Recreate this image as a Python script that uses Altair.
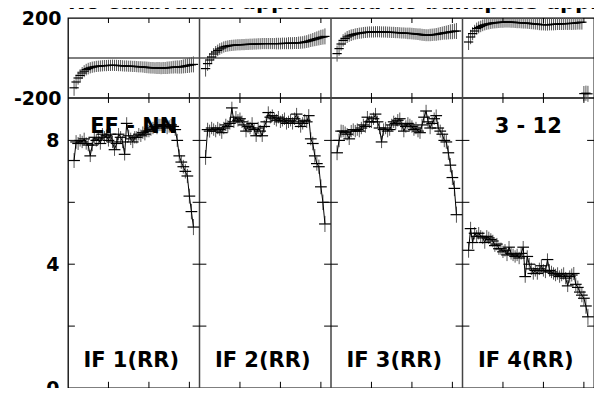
import altair as alt
import pandas as pd

TITLE = "No calibration applied and no bandpass applied"
BASELINE_LABEL = "EF - NN"
SOURCE_LABEL = "3 - 12"
IF_LABELS = ["IF 1(RR)", "IF 2(RR)", "IF 3(RR)", "IF 4(RR)"]

CHANNELS = list(range(3, 63))
CHANNELS_PER_PANEL = 65
X_TICKS = [20, 40, 60]
PHASE_LABELS = [-200, 200]
AMP_LABELS = [0, 4, 8]
AMP_TICKS = [2, 4, 6, 8]

PHASE_IF1 = [-149, -120, -100, -87, -75, -66, -58, -53, -49, -46,
             -44, -42, -41, -40, -39, -38, -38, -37, -37, -36,
             -37, -37, -38, -38, -39, -40, -40, -41, -41, -42,
             -42, -43, -44, -44, -45, -46, -47, -48, -49, -49,
             -50, -50, -50, -51, -50, -50, -49, -48, -47, -46,
             -45, -45, -45, -44, -42, -40, -38, -36, -34, -32]
PHASE_IF2 = [-53, -28, -10, 5, 20, 30, 38, 45, 50, 55,
             58, 60, 62, 63, 64, 65, 66, 66, 67, 67,
             68, 68, 69, 69, 70, 70, 71, 71, 72, 72,
             72, 72, 72, 72, 72, 72, 72, 72, 73, 73,
             73, 74, 74, 74, 75, 75, 76, 77, 78, 80,
             82, 85, 88, 91, 94, 97, 100, 103, 105, 108]
PHASE_IF3 = [22, 47, 70, 88, 97, 105, 110, 114, 117, 120,
             122, 124, 125, 127, 128, 129, 130, 130, 130, 131,
             131, 131, 130, 130, 130, 129, 129, 128, 128, 127,
             127, 126, 125, 125, 124, 123, 123, 122, 121, 120,
             119, 118, 116, 115, 114, 114, 115, 116, 117, 118,
             120, 122, 124, 126, 127, 129, 131, 132, 134, 135]
PHASE_IF4 = [80, 105, 122, 135, 147, 153, 158, 163, 166, 169,
             171, 173, 175, 176, 177, 178, 179, 179, 180, 180,
             180, 179, 179, 178, 177, 177, 176, 175, 175, 174,
             173, 172, 171, 170, 169, 168, 167, 167, 166, 166,
             167, 168, 168, 169, 170, 170, 171, 171, 172, 172,
             173, 173, 174, 175, 177, 178, 179, -178, -176, -179]

AMP_IF1 = [7.35, 7.95, 7.9, 8.0, 7.95, 8.05, 7.9, 7.85, 7.5, 7.85,
           8.1, 8.0, 8.05, 7.9, 8.2, 8.1, 8.15, 8.0, 8.2, 7.95,
           7.7, 7.9, 8.2, 8.1, 7.95, 7.55, 8.55, 8.15, 8.05, 7.95,
           8.1, 8.1, 8.2, 8.15, 8.25, 8.2, 8.3, 8.3, 8.35, 8.4,
           8.45, 8.4, 8.5, 8.5, 8.45, 8.5, 8.4, 8.45, 8.5, 8.45,
           8.35, 8.0, 7.5, 7.3, 7.15, 7.0, 6.85, 6.2, 5.7, 5.2]
AMP_IF2 = [7.45, 8.35, 8.3, 8.4, 8.35, 8.3, 8.4, 8.35, 8.25, 8.4,
           8.5, 8.45, 8.55, 9.05, 8.6, 8.75, 8.65, 8.7, 8.6, 8.5,
           8.3, 8.45, 8.4, 8.55, 8.35, 8.15, 8.4, 8.3, 8.15, 8.45,
           8.6, 8.9, 8.75, 8.8, 8.7, 8.65, 8.75, 8.6, 8.65, 8.7,
           8.55, 8.6, 8.65, 8.55, 8.7, 8.85, 8.6, 8.45, 8.55, 8.65,
           8.6, 8.8, 8.05, 7.9, 7.5, 7.25, 7.15, 6.5, 6.0, 5.3]
AMP_IF3 = [7.6, 8.0, 8.3, 8.3, 8.25, 8.2, 8.05, 8.3, 8.35, 8.3,
           8.35, 8.3, 8.4, 8.5, 8.45, 8.75, 8.6, 8.6, 8.7, 8.85,
           8.6, 8.4, 7.95, 8.35, 8.4, 8.3, 8.35, 8.5, 8.6, 8.55,
           8.65, 8.7, 8.5, 8.3, 8.45, 8.55, 8.5, 8.45, 8.35, 8.4,
           8.3, 8.25, 8.5, 8.75, 8.95, 8.6, 8.4, 8.55, 8.7, 8.8,
           8.4, 8.3, 8.2, 8.0, 7.95, 7.6, 7.2, 6.8, 6.45, 5.6]
AMP_IF4 = [4.45, 5.15, 4.7, 5.0, 4.9, 5.0, 4.9, 4.85, 4.7, 4.9,
           4.85, 4.8, 4.75, 4.6, 4.65, 4.5, 4.5, 4.4, 4.45, 4.3,
           4.55, 4.35, 4.3, 4.25, 4.3, 4.2, 4.35, 4.55, 3.6, 4.25,
           4.0, 3.85, 3.7, 3.8, 3.7, 3.85, 3.95, 3.8, 3.75, 4.15,
           3.8, 3.75, 3.7, 3.65, 3.7, 3.6, 3.65, 3.7, 3.55, 3.3,
           3.6, 3.65, 3.7, 3.35, 3.25, 3.1, 3.0, 2.9, 2.65, 2.3]

PHASE_ERR = [40, 36, 33, 31, 30, 30, 29, 29, 28, 28,
             28, 28, 28, 28, 28, 28, 28, 28, 28, 28,
             28, 28, 28, 28, 28, 28, 28, 28, 28, 28,
             28, 28, 28, 28, 28, 29, 29, 29, 29, 29,
             29, 30, 30, 30, 30, 30, 31, 31, 31, 32,
             32, 33, 33, 34, 35, 36, 37, 38, 38, 40]
AMP_ERR = [0.24, 0.22, 0.21, 0.20, 0.20, 0.20, 0.20, 0.20, 0.20, 0.20,
           0.20, 0.20, 0.20, 0.20, 0.20, 0.20, 0.20, 0.20, 0.20, 0.20,
           0.20, 0.20, 0.20, 0.20, 0.20, 0.20, 0.20, 0.20, 0.20, 0.20,
           0.20, 0.20, 0.20, 0.20, 0.20, 0.20, 0.20, 0.20, 0.20, 0.20,
           0.20, 0.20, 0.20, 0.20, 0.20, 0.20, 0.20, 0.20, 0.20, 0.20,
           0.20, 0.21, 0.21, 0.22, 0.22, 0.23, 0.23, 0.24, 0.25, 0.26]

PHASES = [PHASE_IF1, PHASE_IF2, PHASE_IF3, PHASE_IF4]
AMPS = [AMP_IF1, AMP_IF2, AMP_IF3, AMP_IF4]
NPANEL = len(IF_LABELS)
XMAX = CHANNELS_PER_PANEL * NPANEL

# --- build tables ---------------------------------------------------------
rows = []
for k in range(NPANEL):
    for i, ch in enumerate(CHANNELS):
        xg = ch + CHANNELS_PER_PANEL * k
        p, a = PHASES[k][i], AMPS[k][i]
        rows.append(dict(k=k, xg=xg,
                         px0=xg - 2.3, px1=xg + 2.3,
                         ax0=xg - 2.9, ax1=xg + 2.9,
                         ph=p, ph_lo=p - PHASE_ERR[i], ph_hi=p + PHASE_ERR[i],
                         amp=a, amp_lo=a - AMP_ERR[i], amp_hi=a + AMP_ERR[i]))
df = pd.DataFrame(rows)

seps = pd.DataFrame({"b": [CHANNELS_PER_PANEL * k for k in range(1, NPANEL)]})
xt = pd.DataFrame({"xt": [t + CHANNELS_PER_PANEL * k for k in range(NPANEL) for t in X_TICKS]})
yt = pd.DataFrame([dict(x0=CHANNELS_PER_PANEL * k - 3.4, x1=CHANNELS_PER_PANEL * k + 3.4, y=t)
                   for k in range(NPANEL + 1) for t in AMP_TICKS])
labels_df = pd.DataFrame({"x": [CHANNELS_PER_PANEL * k + 7.6 for k in range(NPANEL)],
                          "y": [0.67] * NPANEL, "t": IF_LABELS})
ann_df = pd.DataFrame({"x": [CHANNELS_PER_PANEL * 0.5, CHANNELS_PER_PANEL * 3.5],
                       "y": [8.23, 8.23], "t": [BASELINE_LABEL, SOURCE_LABEL]})

# --- scales ---------------------------------------------------------------
H_PHASE = 80
H_TOTAL = 370
W_TOTAL = 526
XS = alt.Scale(domain=[0, XMAX], nice=False, zero=False)
YP = alt.Scale(domain=[-200, 200], range=[H_PHASE, 0], nice=False, zero=False)
YA = alt.Scale(domain=[0, 9.37], range=[H_TOTAL, H_PHASE], nice=False, zero=False)

FONT = "DejaVu Sans"


def X(f):
    return alt.X(f, type="quantitative", scale=XS, axis=None)


def axis(values, pad):
    return alt.Axis(values=values, orient="left", title=None, ticks=False, domain=False,
                    grid=False, labelFont=FONT, labelFontWeight="bold", labelFontSize=19,
                    labelColor="black", labelPadding=pad, labelBaseline="middle",
                    labelFlush=False, labelOverlap=False, labelExpr="'' + datum.value")


zero = alt.Chart(pd.DataFrame({"v": [0]})).mark_rule(color="black", strokeWidth=1).encode(
    y=alt.Y("v:Q", scale=YP, axis=axis(PHASE_LABELS, 7)))
mid = alt.Chart(pd.DataFrame({"v": [-200]})).mark_rule(color="black", strokeWidth=1.3).encode(
    y=alt.Y("v:Q", scale=YP, axis=None))
sep = alt.Chart(seps).mark_rule(color="#444", strokeWidth=1.5).encode(x=X("b"))

base = alt.Chart(df)
ph_err = base.mark_rule(color="#555", strokeWidth=1, clip=True).encode(
    x=X("xg"), y=alt.Y("ph_lo:Q", scale=YP, axis=None), y2="ph_hi:Q")
ph_bar = base.mark_rule(color="black", strokeWidth=1.2, clip=True).encode(
    x=X("px0"), x2="px1:Q", y=alt.Y("ph:Q", scale=YP, axis=None))
amp_line = base.mark_line(color="black", strokeWidth=1).encode(
    x=X("xg"), y=alt.Y("amp:Q", scale=YA, axis=axis(AMP_LABELS, 9)), detail="k:N")
amp_err = base.mark_rule(color="#555", strokeWidth=1).encode(
    x=X("xg"), y=alt.Y("amp_lo:Q", scale=YA, axis=None), y2="amp_hi:Q")
amp_bar = base.mark_rule(color="black", strokeWidth=1.2).encode(
    x=X("ax0"), x2="ax1:Q", y=alt.Y("amp:Q", scale=YA, axis=None))

xtc = alt.Chart(xt)
tick_top = xtc.transform_calculate(a="200", b="175").mark_rule(color="black").encode(
    x=X("xt"), y=alt.Y("a:Q", scale=YP, axis=None), y2="b:Q")
tick_mid1 = xtc.transform_calculate(a="-200", b="-175").mark_rule(color="black").encode(
    x=X("xt"), y=alt.Y("a:Q", scale=YP, axis=None), y2="b:Q")
tick_mid2 = xtc.transform_calculate(a="9.37", b="9.21").mark_rule(color="black").encode(
    x=X("xt"), y=alt.Y("a:Q", scale=YA, axis=None), y2="b:Q")
tick_bot = xtc.transform_calculate(a="0", b="0.2").mark_rule(color="black").encode(
    x=X("xt"), y=alt.Y("a:Q", scale=YA, axis=None), y2="b:Q")
tick_side = alt.Chart(yt).mark_rule(color="black", clip=True).encode(
    x=X("x0"), x2="x1:Q", y=alt.Y("y:Q", scale=YA, axis=None))

txt_style = dict(font=FONT, fontWeight="bold", fontSize=21, color="black", baseline="alphabetic")
if_txt = alt.Chart(labels_df).mark_text(align="left", **txt_style).encode(
    x=X("x"), y=alt.Y("y:Q", scale=YA, axis=None), text="t:N")
ann_txt = alt.Chart(ann_df).mark_text(align="center", **txt_style).encode(
    x=X("x"), y=alt.Y("y:Q", scale=YA, axis=None), text="t:N")
title_txt = alt.Chart(pd.DataFrame({"t": [TITLE]})).mark_text(align="left", **txt_style).encode(
    x=alt.value(0), y=alt.value(-9), text="t:N")

chart = alt.layer(
    zero, mid, sep, ph_err, ph_bar, amp_err, amp_bar, amp_line,
    tick_top, tick_mid1, tick_mid2, tick_bot, tick_side,
    if_txt, ann_txt, title_txt,
).resolve_scale(y="independent").properties(
    width=W_TOTAL, height=H_TOTAL,
    autosize=alt.AutoSizeParams(type="none"),
    padding={"left": 60, "top": 10, "right": 0, "bottom": 0},
    background="white",
).configure_view(stroke="black", strokeWidth=1.3)

chart.save("out.html", embed_options={"renderer": "svg", "actions": False})
